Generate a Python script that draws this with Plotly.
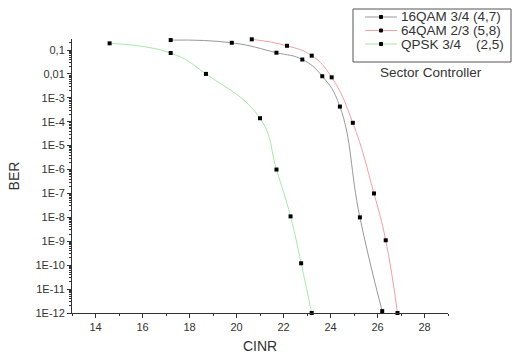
import plotly.graph_objects as go

# ---- data ----
qpsk_x = [14.6, 17.2, 18.7, 21.0, 21.7, 22.3, 22.75, 23.2]
qpsk_y = [0.19, 0.075, 0.01, 1.4e-4, 1e-6, 1.1e-8, 1.2e-10, 1e-12]

qam16_x = [17.2, 19.8, 21.7, 22.8, 23.65, 24.4, 25.25, 26.2]
qam16_y = [0.26, 0.2, 0.077, 0.04, 0.008, 4.3e-4, 1e-8, 1.2e-12]

qam64_x = [20.65, 22.15, 23.2, 24.05, 24.95, 25.85, 26.35, 26.85]
qam64_y = [0.28, 0.15, 0.058, 0.0072, 9e-5, 1e-7, 1.1e-9, 1e-12]

series_names = ["16QAM 3/4 (4,7)", "64QAM 2/3 (5,8)", "QPSK 3/4    (2,5)"]
series_colors = ["#999999", "#f4a0a0", "#a8e8a8"]

ytick_vals = [1e-1, 1e-2, 1e-3, 1e-4, 1e-5, 1e-6, 1e-7, 1e-8, 1e-9, 1e-10, 1e-11, 1e-12]
ytick_text = ["0,1", "0,01", "1E-3", "1E-4", "1E-5", "1E-6", "1E-7", "1E-8",
              "1E-9", "1E-10", "1E-11", "1E-12"]
xtick_vals = [14, 16, 18, 20, 22, 24, 26, 28]

FONT = "Liberation Sans, Arial, sans-serif"
TXT = "#333333"

W, H = 513, 356
L, R, T, B = 72, 65, 39, 43
PW, PH = W - L - R, H - T - B


def px(x):
    return (x - L) / PW


def py(y):
    return (H - B - y) / PH


fig = go.Figure()
data = [(qam16_x, qam16_y), (qam64_x, qam64_y), (qpsk_x, qpsk_y)]
for (xs, ys), name, col in zip(data, series_names, series_colors):
    fig.add_trace(go.Scatter(
        x=xs, y=ys, name=name, mode="lines+markers",
        line=dict(color=col, width=1, shape="spline", smoothing=1.3),
        marker=dict(symbol="square", size=4, color="black"),
        cliponaxis=False, showlegend=False,
    ))

# ---- manual legend (box, samples, labels) ----
shapes = [dict(type="rect", xref="paper", yref="paper",
               x0=px(353), x1=px(511), y0=py(62), y1=py(9),
               line=dict(color="#555555", width=1), fillcolor="white")]
annotations = []
rows = [17, 30.5, 44]
for ry, name, col in zip(rows, series_names, series_colors):
    shapes.append(dict(type="line", xref="paper", yref="paper",
                       x0=px(365), x1=px(397), y0=py(ry), y1=py(ry),
                       line=dict(color=col, width=1)))
    shapes.append(dict(type="rect", xref="paper", yref="paper",
                       x0=px(379.5), x1=px(382.5), y0=py(ry + 1.5), y1=py(ry - 1.5),
                       line=dict(color="black", width=1), fillcolor="black"))
    annotations.append(dict(xref="paper", yref="paper", x=px(399), y=py(ry),
                            xanchor="left", yanchor="middle", showarrow=False,
                            text=name, font=dict(family=FONT, size=13.5, color=TXT)))
annotations.append(dict(xref="paper", yref="paper", x=px(431), y=py(72),
                        xanchor="center", yanchor="middle", showarrow=False,
                        text="Sector Controller", font=dict(family=FONT, size=13.5, color=TXT)))

fig.update_layout(
    width=W, height=H,
    margin=dict(l=L, r=R, t=T, b=B, autoexpand=False),
    paper_bgcolor="white", plot_bgcolor="white",
    font=dict(family=FONT, color=TXT, size=11),
    shapes=shapes, annotations=annotations,
    showlegend=False,
)
fig.update_xaxes(
    range=[13, 29], tickvals=xtick_vals,
    showline=True, linecolor="#333333", linewidth=1,
    ticks="outside", ticklen=4, tickcolor="#333333",
    minor=dict(ticks="outside", ticklen=2, dtick=1, tick0=13, tickcolor="#333333"),
    showgrid=False, zeroline=False, mirror=False,
    tickfont=dict(size=11, color=TXT),
    title=dict(text="CINR", font=dict(size=14, color=TXT), standoff=8),
)
fig.update_yaxes(
    type="log", range=[-12, -0.54], tickvals=ytick_vals, ticktext=ytick_text,
    showline=True, linecolor="#333333", linewidth=1,
    ticks="outside", ticklen=4, tickcolor="#333333",
    minor=dict(ticks="outside", ticklen=2, dtick="D1", tickcolor="#333333"),
    showgrid=False, zeroline=False, mirror=False,
    tickfont=dict(size=11, color=TXT),
    title=dict(text="BER", font=dict(size=14, color=TXT), standoff=12),
)

fig.write_html("out.html")
